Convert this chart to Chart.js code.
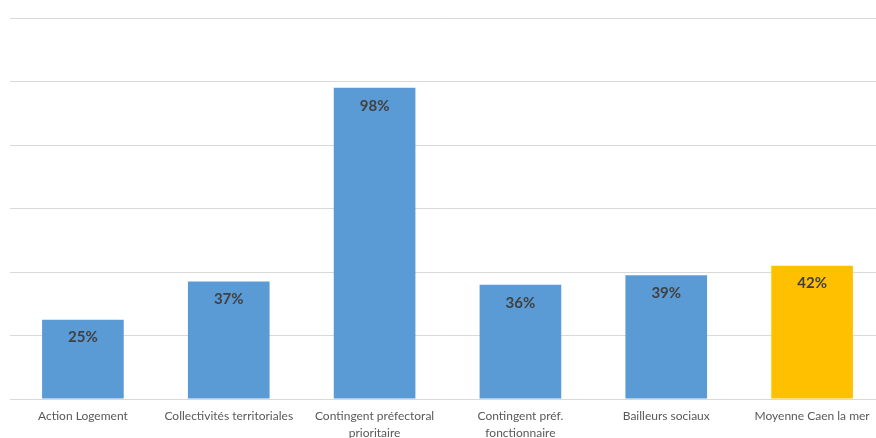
<!DOCTYPE html>
<html>
<head>
<meta charset="utf-8">
<script src="https://cdn.jsdelivr.net/npm/chart.js@4"></script>
<style>
  html, body { margin: 0; padding: 0; background: #fff; overflow: hidden; }
  #wrap { width: 885px; height: 438px; }
</style>
</head>
<body>
<div id="wrap"><canvas id="bar-chart"></canvas></div>
<script>
// categories and values
var categories = [
    'Action Logement',
    'Collectivités territoriales',
    ['Contingent préfectoral', 'prioritaire'],
    ['Contingent préf.', 'fonctionnaire'],
    'Bailleurs sociaux',
    'Moyenne Caen la mer'
];
var values = [25, 37, 98, 36, 39, 42];
var barColors = ['#5B9BD5', '#5B9BD5', '#5B9BD5', '#5B9BD5', '#5B9BD5', '#FFC000'];
var yTicks = [0, 20, 40, 60, 80, 100, 120];

// small plugin to write the value inside the top of each bar
var valueLabels = {
    id: 'valueLabels',
    afterDatasetsDraw: function(chart) {
        var ctx = chart.ctx;
        var meta = chart.getDatasetMeta(0);
        ctx.save();
        ctx.font = 'bold 15px Lato, sans-serif';
        ctx.fillStyle = '#404040';
        ctx.textAlign = 'center';
        ctx.textBaseline = 'middle';
        meta.data.forEach(function(bar, i) {
            ctx.fillText(values[i] + '%', bar.x, bar.y + 18);
        });
        ctx.restore();
    }
};

window.onload = function() {
    var ctx = document.getElementById('bar-chart').getContext('2d');
    new Chart(ctx, {
        type: 'bar',
        data: {
            labels: categories,
            datasets: [{
                data: values,
                backgroundColor: barColors,
                barPercentage: 0.56,
                categoryPercentage: 1.0
            }]
        },
        options: {
            responsive: true,
            maintainAspectRatio: false,
            animation: false,
            layout: { padding: { left: 10, right: 0, top: 18, bottom: 0 } },
            plugins: {
                legend: { display: false },
                tooltip: { enabled: false }
            },
            scales: {
                x: {
                    grid: { display: false },
                    border: { display: false },
                    ticks: {
                        color: '#595959',
                        font: { family: 'Lato, sans-serif', size: 12, lineHeight: 1.4 },
                        padding: 1,
                        maxRotation: 0,
                        autoSkip: false
                    },
                    afterFit: function(scale) { scale.height = 39; }
                },
                y: {
                    min: 0,
                    max: 120,
                    afterBuildTicks: function(scale) {
                        scale.ticks = yTicks.map(function(v) { return { value: v }; });
                    },
                    grid: { color: '#D9D9D9', lineWidth: 1, drawTicks: false },
                    border: { display: false },
                    ticks: { display: false }
                }
            }
        },
        plugins: [valueLabels]
    });
};
</script>
</body>
</html>
